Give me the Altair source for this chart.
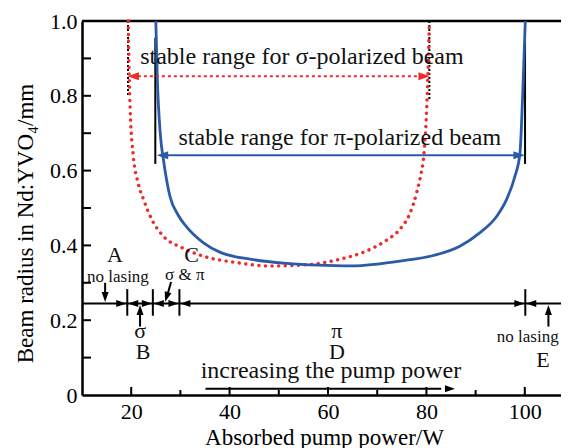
import altair as alt
import pandas as pd

# ---------------- data ----------------
pi_W = [25.0, 25.3, 25.9, 26.6, 27.9, 29.5, 31.3, 34.7, 38.0, 44.8, 51.6, 58.0,
        64.5, 70.0, 74.6, 81.4, 86.8, 90.9, 94.3, 96.3, 98.0, 99.0, 99.7, 100.1]
pi_r = [1.00, 0.85, 0.70, 0.625, 0.530, 0.482, 0.449, 0.407, 0.382, 0.362, 0.352, 0.347,
        0.345, 0.350, 0.358, 0.373, 0.398, 0.434, 0.478, 0.523, 0.585, 0.645, 0.85, 1.00]

sigma_W = [19.4, 19.6, 19.8, 20.4, 21.4, 22.5, 24.2, 26.5, 30.3, 34.7, 41.4, 48.2,
           56.3, 62.4, 68.5, 71.9, 74.6, 76.7, 78.0, 78.8, 79.5, 80.05, 80.4, 80.6]
sigma_r = [1.00, 0.85, 0.76, 0.643, 0.567, 0.523, 0.469, 0.425, 0.394, 0.371, 0.354, 0.345,
           0.349, 0.363, 0.389, 0.414, 0.443, 0.487, 0.540, 0.585, 0.645, 0.763, 0.896, 1.00]

x_major = [20, 40, 60, 80, 100]
x_minor = [30, 50, 70, 90]
y_ticks = [0.1, 0.2, 0.3, 0.4, 0.5, 0.6, 0.7, 0.8, 0.9]
y_labels = [0, 0.2, 0.4, 0.6, 0.8, 1.0]

# stability limits
sigma_lim = [19.35, 80.6]
pi_lim = [24.9, 100.05]
sigma_arrow_r = 0.852
pi_arrow_r = 0.641

# regime line
regime_r = 0.2445
regime_bars = [19.2, 24.4, 29.8, 100.1]

# texts
txt_long = ["stable range for σ-polarized beam", "stable range for π-polarized beam",
            "increasing the pump power"]
txt_long_W = [54.7, 62.4, 60.6]
txt_long_r = [0.904, 0.687, 0.063]
txt_big = ["A", "C", "σ", "B", "π", "D", "E"]
txt_big_W = [16.7, 32.3, 21.8, 22.4, 61.8, 61.8, 103.7]
txt_big_r = [0.374, 0.374, 0.170, 0.115, 0.172, 0.115, 0.094]
txt_small = ["no lasing", "σ & π", "no lasing"]
txt_small_W = [17.3, 30.9, 100.6]
txt_small_r = [0.316, 0.321, 0.155]

BLUE = "#2b5ba8"
RED = "#ee2a2a"
FONT = "Liberation Serif"
W_PX, H_PX = 479, 374
X_DOM = [10, 10 + 479 / 4.92]

xs = alt.Scale(domain=X_DOM, nice=False, zero=False)
ys = alt.Scale(domain=[0, 1], nice=False, zero=False)

X_AXIS = alt.Axis(
    values=x_major, title="Absorbed pump power/W", grid=False, ticks=False, tickSize=0,
    domainColor="black", domainWidth=2.5, labelFont=FONT, labelFontSize=22,
    labelColor="black", labelPadding=6, labelFlush=False,
    titleFont=FONT, titleFontSize=23, titleFontWeight="normal", titleColor="black",
    titleX=242, titleY=42, titleBaseline="middle", titleAlign="center")
Y_AXIS = alt.Axis(
    values=y_labels, title="Beam radius in Nd:YVO₄/mm", grid=False, ticks=False, tickSize=0,
    domainColor="black", domainWidth=2.5, labelFont=FONT, labelFontSize=22,
    labelColor="black", labelPadding=5, labelFlush=False,
    labelExpr="datum.value == 0 ? '0' : format(datum.value, '.1f')",
    titleFont=FONT, titleFontSize=23, titleFontWeight="normal", titleColor="black",
    titleX=-57, titleY=202, titleAngle=270, titleBaseline="middle", titleAlign="center")


def X(f="x"):
    return alt.X(f"{f}:Q", scale=xs, axis=X_AXIS)


def Y(f="y"):
    return alt.Y(f"{f}:Q", scale=ys, axis=Y_AXIS)


# inward ticks
xt = pd.DataFrame({"x": x_major + x_minor,
                   "y": [0] * 9,
                   "y2": [8 / H_PX] * 5 + [5 / H_PX] * 4})
xticks = alt.Chart(xt).mark_rule(color="black", strokeWidth=2).encode(
    x=X(), y=Y(), y2="y2:Q")
yt = pd.DataFrame({"x": [X_DOM[0]] * len(y_ticks),
                   "x2": [X_DOM[0] + 9 / 4.92] * len(y_ticks),
                   "y": y_ticks})
yticks = alt.Chart(yt).mark_rule(color="black", strokeWidth=2).encode(
    x=X(), x2="x2:Q", y=Y())

top = alt.Chart(pd.DataFrame({"x": [X_DOM[0]], "x2": [X_DOM[1]], "y": [1.0]})).mark_rule(
    color="black", strokeWidth=2.5).encode(x=X(), x2="x2:Q", y=Y())

# black dotted limit lines (sigma)
bdot = alt.Chart(pd.DataFrame({"x": sigma_lim, "y": [1.0, 1.0], "y2": [0.80, 0.79]})).mark_rule(
    color="black", strokeWidth=2, strokeDash=[2, 2]).encode(x=X(), y=Y(), y2="y2:Q")
# black solid limit lines (pi)
bsol = alt.Chart(pd.DataFrame({"x": pi_lim, "y": [0.955, 0.955], "y2": [0.618, 0.618]})).mark_rule(
    color="black", strokeWidth=2).encode(x=X(), y=Y(), y2="y2:Q")

# curves
red_curve = alt.Chart(pd.DataFrame({"x": sigma_W, "y": sigma_r})).mark_line(
    color=RED, strokeWidth=3.4, strokeDash=[0.1, 6.5], strokeCap="round",
    interpolate="monotone").encode(x=X(), y=Y())
blue_curve = alt.Chart(pd.DataFrame({"x": pi_W, "y": pi_r})).mark_line(
    color=BLUE, strokeWidth=2.8, interpolate="monotone").encode(x=X(), y=Y())

# range arrows
red_shaft = alt.Chart(pd.DataFrame({"x": [sigma_lim[0] + 2], "x2": [sigma_lim[1] - 2],
                                    "y": [sigma_arrow_r]})).mark_rule(
    color=RED, strokeWidth=2, strokeDash=[3, 3]).encode(x=X(), x2="x2:Q", y=Y())
blue_shaft = alt.Chart(pd.DataFrame({"x": [pi_lim[0] + 1], "x2": [pi_lim[1] - 1],
                                     "y": [pi_arrow_r]})).mark_rule(
    color=BLUE, strokeWidth=2).encode(x=X(), x2="x2:Q", y=Y())

# regime line and bars
regime = alt.Chart(pd.DataFrame({"x": [X_DOM[0]], "x2": [X_DOM[1]], "y": [regime_r]})).mark_rule(
    color="black", strokeWidth=2).encode(x=X(), x2="x2:Q", y=Y())
bars = alt.Chart(pd.DataFrame({"x": regime_bars, "y": [0.283] * 4, "y2": [0.212] * 4})).mark_rule(
    color="black", strokeWidth=2).encode(x=X(), y=Y(), y2="y2:Q")

# small pointer shafts
ptr = pd.DataFrame({"x": [14.7, 21.8, 28.1, 104.8, 35.1],
                    "x2": [14.7, 21.8, 27.3, 104.8, 83.0],
                    "y": [0.300, 0.183, 0.302, 0.183, 0.017],
                    "y2": [0.270, 0.225, 0.265, 0.225, 0.017]})
pointers = alt.Chart(ptr).mark_rule(color="black", strokeWidth=2).encode(
    x=X(), x2="x2:Q", y=Y(), y2="y2:Q")

# arrow heads (tip at the point, custom path pointing right, rotated by angle)
HEAD = "M0,0L-2,-0.7L-2,0.7Z"
heads_col = pd.DataFrame({
    "x": [sigma_lim[0] - 0.1, sigma_lim[1] + 0.1, pi_lim[0] + 0.3, pi_lim[1] - 0.05],
    "y": [sigma_arrow_r, sigma_arrow_r, pi_arrow_r, pi_arrow_r],
    "angle": [180, 0, 180, 0],
    "c": [RED, RED, BLUE, BLUE]})
heads1 = alt.Chart(heads_col).mark_point(shape=HEAD, filled=True, opacity=1, size=130,
                                         strokeWidth=0).encode(
    x=X(), y=Y(), angle=alt.Angle("angle:Q", scale=None), color=alt.Color("c:N", scale=None))

bx, ba = [], []
for b in regime_bars:
    bx += [b - 0.2, b + 0.2]
    ba += [0, 180]
heads_blk = pd.DataFrame({
    "x": bx + [14.7, 21.8, 26.9, 104.8, 85.8],
    "y": [regime_r] * len(bx) + [regime_r + 0.004, regime_r - 0.004, 0.249, regime_r - 0.004, 0.017],
    "angle": ba + [90, 270, 107, 270, 0]})
heads2 = alt.Chart(heads_blk).mark_point(shape=HEAD, filled=True, opacity=1, size=100,
                                         color="black", strokeWidth=0).encode(
    x=X(), y=Y(), angle=alt.Angle("angle:Q", scale=None))

# texts
t_long = alt.Chart(pd.DataFrame({"x": txt_long_W, "y": txt_long_r, "t": txt_long})).mark_text(
    font=FONT, fontSize=24, color="#111", baseline="middle", align="center").encode(
    x=X(), y=Y(), text="t:N")
t_big = alt.Chart(pd.DataFrame({"x": txt_big_W, "y": txt_big_r, "t": txt_big})).mark_text(
    font=FONT, fontSize=22, color="#111", baseline="middle", align="center").encode(
    x=X(), y=Y(), text="t:N")
t_small = alt.Chart(pd.DataFrame({"x": txt_small_W, "y": txt_small_r, "t": txt_small})).mark_text(
    font=FONT, fontSize=17, color="#111", baseline="middle", align="center").encode(
    x=X(), y=Y(), text="t:N")

chart = alt.layer(
    xticks, yticks, top, bdot, bsol, red_curve, blue_curve, red_shaft, blue_shaft,
    regime, bars, pointers, heads1, heads2, t_long, t_big, t_small
).properties(
    width=W_PX, height=H_PX,
    autosize=alt.AutoSizeParams(type="none"),
    padding={"left": 74, "top": 13, "right": 0, "bottom": 53},
).configure_view(stroke=None).configure(background="white")

chart.save("out.html", embed_options={"renderer": "svg", "actions": False})
